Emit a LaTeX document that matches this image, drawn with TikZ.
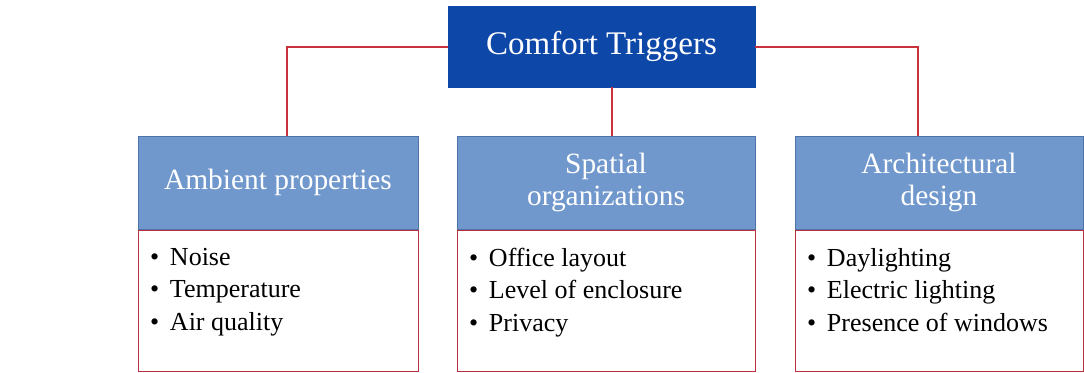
\documentclass[tikz,border=0pt]{standalone}
\usepackage{fontspec}
\setmainfont{Liberation Serif}
\usetikzlibrary{positioning}
\definecolor{ctdark}{HTML}{0D47A8}
\definecolor{cthead}{HTML}{7098CC}
\definecolor{ctedge}{HTML}{4F73A8}
\definecolor{ctred}{HTML}{C8323C}
\definecolor{ctbody}{HTML}{B83040}

\newcommand{\blt}{\makebox[10pt][l]{\textbullet}}
\newcommand{\itemlist}[2]{\parbox[t][70.5pt][t]{#1}{\vspace*{9pt}\fontsize{13}{16.25}\selectfont #2}}

\begin{document}
\begin{tikzpicture}[x=0.5pt, y=-0.5pt]
  \useasboundingbox (0,0) rectangle (1084,372);

  % Top box
  \node[draw=ctdark, fill=ctdark, rectangle, minimum width=153.5pt, minimum height=40.5pt, text=white,
        font=\fontsize{16.5}{18}\selectfont] (trig) at (601.5,46.5) {Comfort Triggers};

  % Category headers
  \node[draw=ctedge, line width=0.5pt, fill=cthead, rectangle, minimum width=140pt, minimum height=46.5pt,
        text=white, align=center, font=\fontsize{14.7}{16}\selectfont] (amb) at (278,182.5) {Ambient properties};

  \node[draw=ctedge, line width=0.5pt, fill=cthead, rectangle, minimum width=149pt, minimum height=46.5pt,
        text=white, align=center, font=\fontsize{14.7}{16}\selectfont] (spa) at (606,182.5) {Spatial\\organizations};

  \node[draw=ctedge, line width=0.5pt, fill=cthead, rectangle, minimum width=144pt, minimum height=46.5pt,
        text=white, align=center, font=\fontsize{14.7}{16}\selectfont] (arc) at (939,182.5) {Architectural\\design};

  % Item lists
  \node[draw=ctbody, line width=0.5pt, rectangle, anchor=north, inner xsep=6pt, inner ysep=0pt]
    (ambList) at (amb.south) {\itemlist{128pt}{\blt Noise\\ \blt Temperature\\ \blt Air quality}};

  \node[draw=ctbody, line width=0.5pt, rectangle, anchor=north, inner xsep=6pt, inner ysep=0pt]
    (spaList) at (spa.south) {\itemlist{137pt}{\blt Office layout\\ \blt Level of enclosure\\ \blt Privacy}};

  \node[draw=ctbody, line width=0.5pt, rectangle, anchor=north, inner xsep=6pt, inner ysep=0pt]
    (arcList) at (arc.south) {\itemlist{132pt}{\blt Daylighting\\ \blt Electric lighting\\ \blt Presence of windows}};

  % Connectors
  \draw[ctred, line width=1pt] (trig.west) -| ([xshift=4.5pt]amb.north);
  \draw[ctred, line width=1pt] ([xshift=5pt]trig.south) -- ([xshift=5pt]trig.south |- spa.north);
  \draw[ctred, line width=1pt] (trig.east) -| ([xshift=-10.5pt]arc.north);
\end{tikzpicture}
\end{document}
